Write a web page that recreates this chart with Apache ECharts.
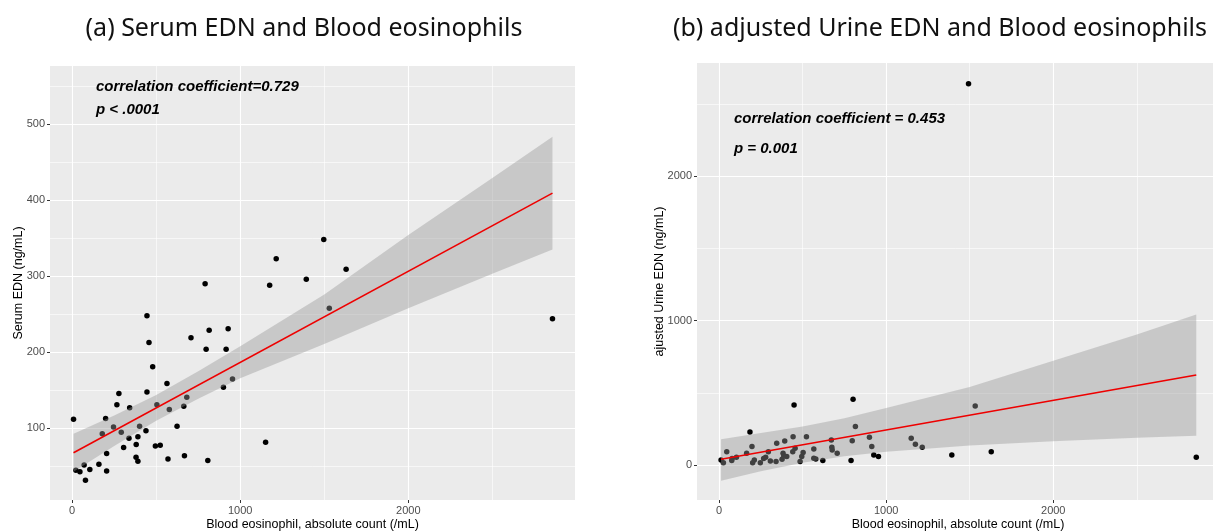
<!DOCTYPE html>
<html>
<head>
<meta charset="utf-8">
<script src="https://cdn.jsdelivr.net/npm/echarts@6/dist/echarts.min.js"></script>
<style>html,body{margin:0;padding:0;background:#fff;overflow:hidden;}#c{width:1213px;height:531px;}</style>
</head>
<body>
<div id="c"></div>
<script>
// ---- Panel (a): Serum EDN vs blood eosinophils ----
const serumEos = [8,22,46,71,79,105,159,179,199,205,205,246,266,278,292,306,338,342,380,381,391,391,401,439,445,445,457,479,495,504,524,564,570,578,624,664,668,682,707,791,797,807,815,900,916,928,954,1151,1175,1214,1393,1497,1530,1630,2858];
const serumEDN = [112,45,43,52,32,46,53,93,113,67,44,102,131,146,95,75,87,127,62,79,89,57,103,97,148,248,213,181,77,131,78,159,60,125,103,129,64,141,219,290,204,58,229,154,204,231,165,82,288,323,296,348,258,309,244];
const serumFitX = [8, 2858];
const serumFitY = [68, 409];
const serumBandX = [8, 250, 500, 750, 1000, 1500, 2000, 2500, 2858];
const serumBandLow = [43, 77, 110, 139, 166, 211, 258, 303, 335];
const serumBandHigh = [93, 117, 144, 175, 208, 276, 354, 429, 483];

// ---- Panel (b): adjusted urine EDN vs blood eosinophils ----
const urineEos = [12,26,46,76,78,104,165,185,197,201,211,247,267,279,295,307,341,345,377,383,387,393,405,441,443,449,455,485,495,503,523,567,567,579,621,672,675,677,707,790,797,802,816,900,914,926,954,1150,1175,1216,1393,1493,1533,1629,2856];
const urineEDN = [35,16,92,30,44,53,81,229,127,16,35,16,44,53,92,28,23,150,39,81,62,166,58,92,196,416,116,23,58,86,196,111,46,42,30,173,122,104,81,30,167,456,266,192,127,69,58,185,143,123,69,2642,409,92,53];
const urineFitX = [12, 2856];
const urineFitY = [40, 623];
const urineBandX = [12, 250, 500, 750, 1000, 1500, 2000, 2500, 2856];
const urineBandLow = [-110, -43, 15, 60, 92, 135, 164, 188, 203];
const urineBandHigh = [178, 221, 266, 324, 394, 540, 722, 905, 1043];

// ---- Tick labels ----
const xTicks = [0, 1000, 2000];
const serumYTicks = [100, 200, 300, 400, 500];
const urineYTicks = [0, 1000, 2000];

// ---- Text ----
const titles = ['(a) Serum EDN and Blood eosinophils', '(b) adjusted Urine EDN and Blood eosinophils'];
const xName = 'Blood eosinophil, absolute count (/mL)';
const yNames = ['Serum EDN (ng/mL)', 'ajusted Urine EDN (ng/mL)'];
const notes = [['correlation coefficient=0.729', 'p < .0001'], ['correlation coefficient = 0.453', 'p = 0.001']];

const zip = (a, b) => a.map((v, i) => [v, b[i]]);

function bandRender(xs, lo, hi) {
  return function (params, api) {
    if (params.dataIndex !== 0) return null;
    const pts = [];
    for (let i = 0; i < xs.length; i++) pts.push(api.coord([xs[i], hi[i]]));
    for (let i = xs.length - 1; i >= 0; i--) pts.push(api.coord([xs[i], lo[i]]));
    return { type: 'polygon', shape: { points: pts }, style: { fill: 'rgba(153,153,153,0.42)' } };
  };
}

const tickLabel = { color: '#4d4d4d', fontSize: 11, fontFamily: 'Liberation Sans, Arial, sans-serif', formatter: v => String(v) };
const nameStyle = { color: '#000', fontSize: 12.5, fontFamily: 'Liberation Sans, Arial, sans-serif' };

function xAxis(gi) {
  return {
    type: 'value', gridIndex: gi, min: -132, max: 2992, splitNumber: 3,
    name: xName, nameLocation: 'middle', nameGap: 18, nameMoveOverlap: false, nameTextStyle: nameStyle,
    axisLine: { show: false, onZero: false },
    axisTick: { show: true, length: 3, lineStyle: { color: '#333' }, customValues: xTicks },
    axisLabel: Object.assign({ margin: 5, customValues: xTicks }, tickLabel),
    splitLine: { show: true, lineStyle: { color: '#ffffff', width: 1.1 } },
    minorTick: { show: false, splitNumber: 2 },
    minorSplitLine: { show: true, lineStyle: { color: '#ffffff', width: 0.6 } }
  };
}
function yAxis(gi, min, max, ticks, name, gap) {
  return {
    type: 'value', gridIndex: gi, min: min, max: max, splitNumber: gi === 0 ? 5 : 3,
    name: name, nameLocation: 'middle', nameGap: gap, nameMoveOverlap: false, nameRotate: 90, nameTextStyle: nameStyle,
    axisLine: { show: false, onZero: false },
    axisTick: { show: true, length: 3, lineStyle: { color: '#333' }, customValues: ticks },
    axisLabel: Object.assign({ margin: 5, customValues: ticks }, tickLabel),
    splitLine: { show: true, lineStyle: { color: '#ffffff', width: 1.1 } },
    minorTick: { show: false, splitNumber: 2 },
    minorSplitLine: { show: true, lineStyle: { color: '#ffffff', width: 0.6 } }
  };
}

const noteFont = 'italic bold 15px "Liberation Sans", Arial, sans-serif';
const titleStyle = { fontFamily: 'Noto Sans', fontSize: 25, fontWeight: 'normal', color: '#111' };

const option = {
  animation: false,
  backgroundColor: '#ffffff',
  title: [
    { text: titles[0], left: 299, top: 11, textAlign: 'center', textStyle: titleStyle },
    { text: titles[1], left: 935, top: 11, textAlign: 'center', textStyle: titleStyle }
  ],
  grid: [
    { left: 50, top: 66, width: 525, height: 434, show: true, backgroundColor: '#ebebeb', borderWidth: 0, containLabel: false, outerBoundsMode: 'none' },
    { left: 697, top: 63, width: 522, height: 437, show: true, backgroundColor: '#ebebeb', borderWidth: 0, containLabel: false, outerBoundsMode: 'none' }
  ],
  xAxis: [xAxis(0), xAxis(1)],
  yAxis: [
    yAxis(0, 6, 576, serumYTicks, yNames[0], 25),
    yAxis(1, -243, 2786, urineYTicks, yNames[1], 31)
  ],
  series: [
    { type: 'scatter', xAxisIndex: 0, yAxisIndex: 0, data: zip(serumEos, serumEDN), symbolSize: 5.5, itemStyle: { color: '#000', opacity: 1 }, z: 2 },
    { type: 'custom', xAxisIndex: 0, yAxisIndex: 0, renderItem: bandRender(serumBandX, serumBandLow, serumBandHigh),
      data: serumBandX.map((x, i) => [x, serumBandLow[i], serumBandHigh[i]]), encode: { x: 0, y: [1, 2] }, z: 3, silent: true },
    { type: 'line', xAxisIndex: 0, yAxisIndex: 0, data: zip(serumFitX, serumFitY), showSymbol: false, lineStyle: { color: '#ee0000', width: 1.6 }, z: 4 },

    { type: 'scatter', xAxisIndex: 1, yAxisIndex: 1, data: zip(urineEos, urineEDN), symbolSize: 5.5, itemStyle: { color: '#000', opacity: 1 }, z: 2 },
    { type: 'custom', xAxisIndex: 1, yAxisIndex: 1, renderItem: bandRender(urineBandX, urineBandLow, urineBandHigh),
      data: urineBandX.map((x, i) => [x, urineBandLow[i], urineBandHigh[i]]), encode: { x: 0, y: [1, 2] }, z: 3, silent: true },
    { type: 'line', xAxisIndex: 1, yAxisIndex: 1, data: zip(urineFitX, urineFitY), showSymbol: false, lineStyle: { color: '#ee0000', width: 1.6 }, z: 4 }
  ],
  graphic: [
    { type: 'text', x: 96, y: 87, z: 10, style: { text: notes[0][0], font: noteFont, fill: '#000', textVerticalAlign: 'middle' } },
    { type: 'text', x: 96, y: 110, z: 10, style: { text: notes[0][1], font: noteFont, fill: '#000', textVerticalAlign: 'middle' } },
    { type: 'text', x: 734, y: 119, z: 10, style: { text: notes[1][0], font: noteFont, fill: '#000', textVerticalAlign: 'middle' } },
    { type: 'text', x: 734, y: 149, z: 10, style: { text: notes[1][1], font: noteFont, fill: '#000', textVerticalAlign: 'middle' } }
  ]
};

const chart = echarts.init(document.getElementById('c'), null, { renderer: 'canvas' });
chart.setOption(option);
</script>
</body>
</html>
